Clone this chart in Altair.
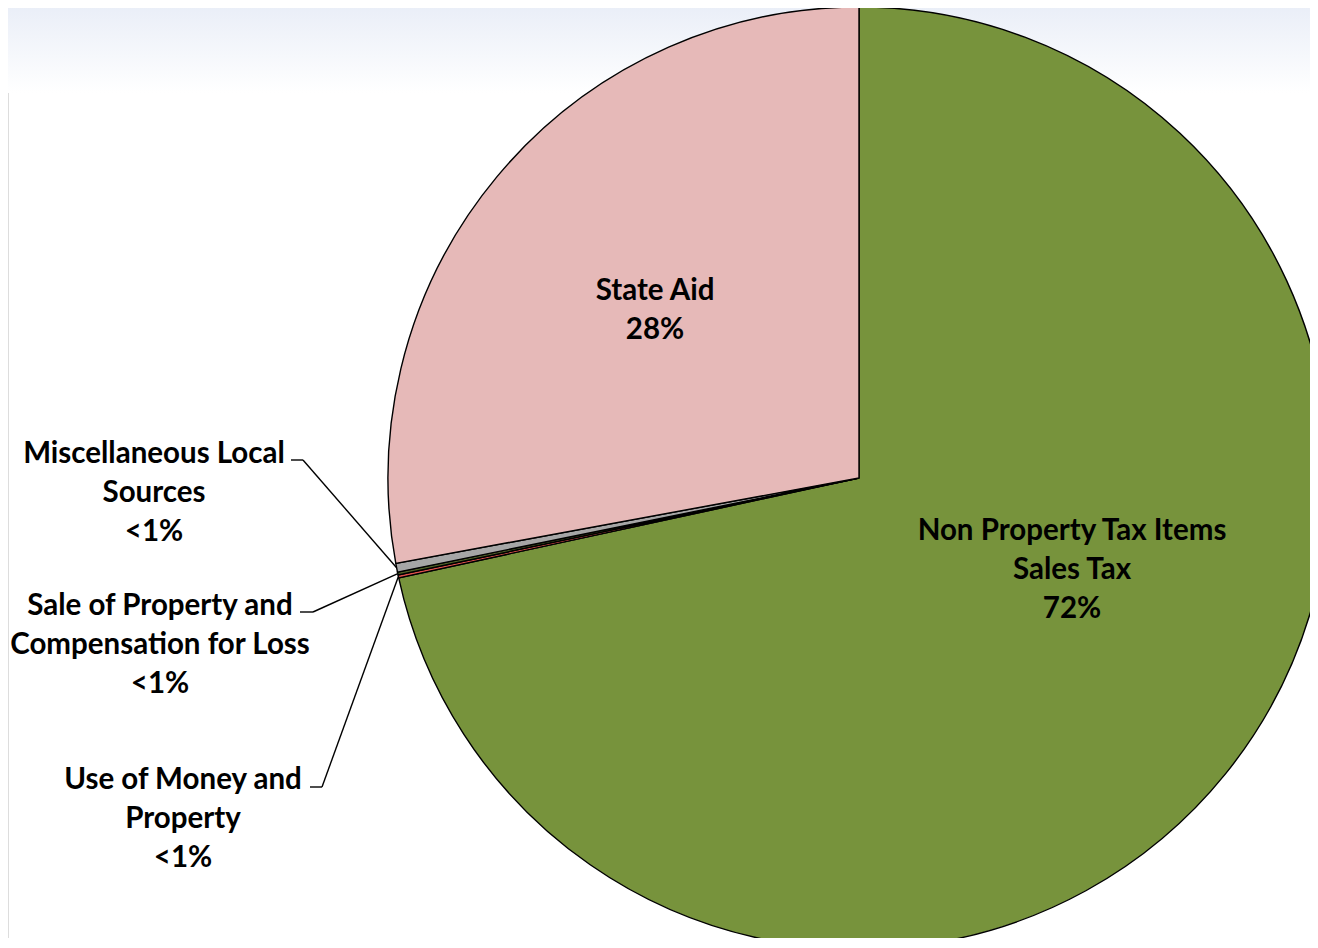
import math
import altair as alt
import pandas as pd

# ---- data ----
categories = [
    "Non Property Tax Items Sales Tax",
    "Use of Money and Property",
    "Sale of Property and Compensation for Loss",
    "Miscellaneous Local Sources",
    "State Aid",
]
shares = [71.6, 0.1, 0.1, 0.3, 27.9]
colors = ["#77933C", "#E0504D", "#4F6228", "#A6A6A6", "#E6B9B8"]
label_text = [
    "Non Property Tax Items\nSales Tax\n72%",
    "Use of Money and\nProperty\n<1%",
    "Sale of Property and\nCompensation for Loss\n<1%",
    "Miscellaneous Local\nSources\n<1%",
    "State Aid\n28%",
]

# ---- layout ----
W, H = 1302, 930
CX, CY, R = 851, 470, 471
FONT = "Lato"
FS = 29.5
LH = 39

# label anchor positions (first-line centre, layout only)
label_pos = {
    categories[0]: (1064, 523),
    categories[1]: (175, 772),
    categories[2]: (152, 598),
    categories[3]: (146, 446),
    categories[4]: (647, 283),
}
# leader start segments (horizontal stub) for outside labels
leader_stub = {
    categories[1]: (302, 314, 779),
    categories[2]: (292, 305, 604),
    categories[3]: (283, 295, 452),
}

df = pd.DataFrame({"category": categories, "share": shares, "order": list(range(len(categories)))})

# slice midpoint on the rim, derived from the data
total = sum(shares)
cum = 0.0
mid_pts = {}
for c, s in zip(categories, shares):
    a = (cum + s / 2) / total * 2 * math.pi
    mid_pts[c] = (CX + R * math.sin(a), CY - R * math.cos(a))
    cum += s

seg_rows = []
for c, (x0, x1, y) in leader_stub.items():
    seg_rows.append({"x": x0, "y": y, "x2": x1, "y2": y})
    mx, my = mid_pts[c]
    seg_rows.append({"x": x1, "y": y, "x2": mx, "y2": my})
seg_df = pd.DataFrame(seg_rows)

lab_df = pd.DataFrame({
    "text": label_text,
    "x": [label_pos[c][0] for c in categories],
    "y": [label_pos[c][1] for c in categories],
})

bg = alt.Chart(pd.DataFrame({"a": [0]})).mark_rect(
    color=alt.Gradient(
        gradient="linear",
        stops=[alt.GradientStop(color="#E8EDF7", offset=0), alt.GradientStop(color="#FFFFFF", offset=1)],
        x1=0, x2=0, y1=0, y2=1,
    )
).encode(x=alt.value(-8), x2=alt.value(W + 8), y=alt.value(-8), y2=alt.value(85))

pie = alt.Chart(df).mark_arc(outerRadius=R, stroke="black", strokeWidth=1.4).encode(
    theta=alt.Theta("share:Q", stack=True),
    order=alt.Order("order:Q"),
    color=alt.Color("category:N", scale=alt.Scale(domain=categories, range=colors), legend=None),
    x=alt.value(CX),
    y=alt.value(CY),
)

lines = alt.Chart(seg_df).mark_rule(color="black", strokeWidth=1.4).encode(
    x=alt.X("x:Q", scale=None), y=alt.Y("y:Q", scale=None),
    x2="x2:Q", y2="y2:Q",
)

labels = alt.Chart(lab_df).mark_text(
    font=FONT, fontSize=FS, fontWeight="bold", color="black",
    align="center", baseline="middle", lineBreak="\n", lineHeight=LH,
).encode(
    x=alt.X("x:Q", scale=None), y=alt.Y("y:Q", scale=None), text="text:N",
)

chart = alt.layer(bg, pie, lines, labels).properties(
    width=W, height=H, autosize=alt.AutoSizeParams(type="none"), padding=0
).configure_view(stroke=None).configure(background="transparent")

chart.save("out.html", embed_options={"renderer": "svg", "actions": False})
